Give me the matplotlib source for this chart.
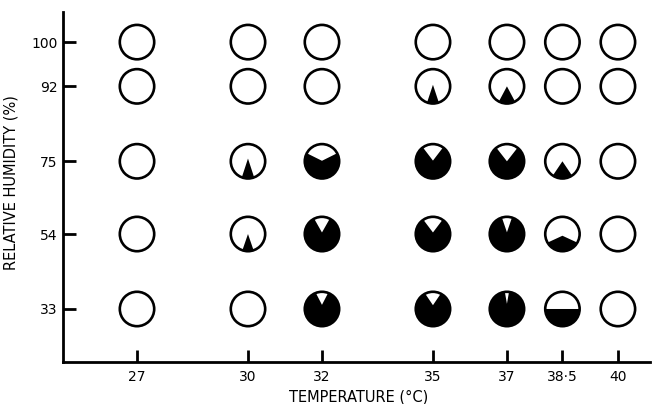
import numpy as np
import matplotlib
matplotlib.use('Agg')
import matplotlib.pyplot as plt
from matplotlib.patches import Circle, Polygon
from matplotlib.transforms import ScaledTranslation

temps = [27, 30, 32, 35, 37, 38.5, 40]
temp_labels = ['27', '30', '32', '35', '37', '38·5', '40']
humidity = [100, 92, 75, 54, 33]
# rows are not spaced linearly in humidity on the original
row_pos = [3.56, 2.97, 1.97, 1.0, 0.0]

# half-angle (deg) of the blackened arc, measured from the bottom of the circle (0 = empty)
black_arc = [
    [0, 0, 0, 0, 0, 0, 0],
    [0, 0, 0, 20, 28, 0, 0],
    [0, 21, 118, 144, 142, 34, 0],
    [0, 19, 153, 146, 163, 60, 0],
    [0, 0, 159, 153, 173, 90, 0],
]
# height of the apex of the black area, fraction of radius (+ = up)
apex_h = [
    [0, 0, 0, 0, 0, 0, 0],
    [0, 0, 0, 0.09, 0.0, 0, 0],
    [0, 0.16, 0.03, 0.04, 0.0, 0.0, 0],
    [0, 0.0, 0.09, 0.09, 0.1, -0.1, 0],
    [0, 0, 0.24, 0.22, 0.3, 0.0, 0],
]

fig = plt.figure(figsize=(6.53, 4.04), dpi=100)
ax = fig.add_axes([0.0965, 0.104, 0.8985, 0.866])

R = 0.172  # circle radius, inches
lw = 1.9

for i, h in enumerate(humidity):
    for j, t in enumerate(temps):
        tr = fig.dpi_scale_trans + ScaledTranslation(t, row_pos[i], ax.transData)
        ax.add_patch(Circle((0, 0), R, transform=tr, facecolor='white',
                            edgecolor='none', zorder=2, clip_on=False))
        phi = black_arc[i][j]
        if phi > 0:
            ang = np.radians(np.linspace(-90 - phi, -90 + phi, 80))
            pts = np.column_stack([R * np.cos(ang), R * np.sin(ang)])
            pts = np.vstack([pts, [0, apex_h[i][j] * R]])
            ax.add_patch(Polygon(pts, closed=True, transform=tr, facecolor='black',
                                 edgecolor='none', zorder=2.5, clip_on=False))
        ax.add_patch(Circle((0, 0), R, transform=tr, facecolor='none',
                            edgecolor='black', lw=lw, zorder=3, clip_on=False))

ax.set_xlim(25.0, 40.86)
ax.set_ylim(-0.707, 3.96)
ax.spines['top'].set_visible(False)
ax.spines['right'].set_visible(False)
ax.spines['left'].set_linewidth(2.0)
ax.spines['bottom'].set_linewidth(2.0)

ax.set_xticks(temps)
ax.set_xticklabels(temp_labels)
ax.set_yticks(row_pos)
ax.set_yticklabels([str(h) for h in humidity])
ax.tick_params(axis='both', direction='in', length=9, width=2.0, labelsize=10)
ax.tick_params(axis='x', pad=6)
ax.tick_params(axis='y', pad=4)

ax.set_xlabel('TEMPERATURE (°C)', fontsize=10.5)
ax.xaxis.set_label_coords(0.503, -0.08)
ax.set_ylabel('RELATIVE HUMIDITY (%)', fontsize=10.5)
ax.yaxis.set_label_coords(-0.076, 0.514)

plt.savefig('out.png', dpi=100)
